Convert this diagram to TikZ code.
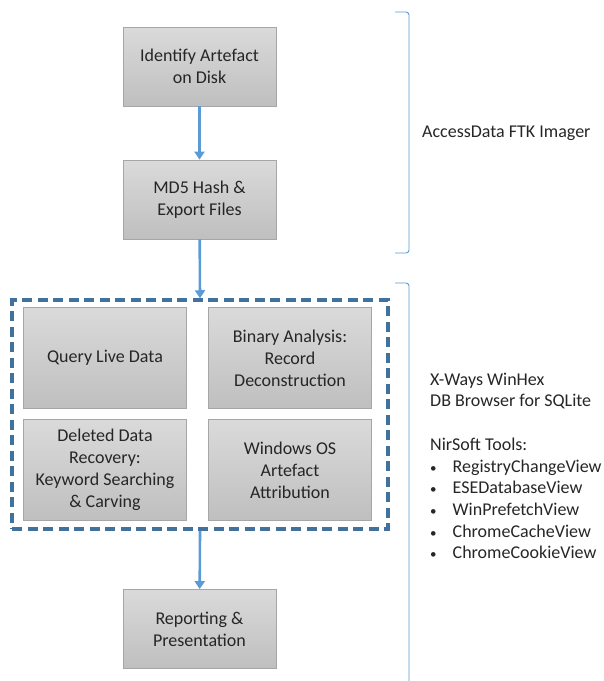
\documentclass[tikz,border=0pt]{standalone}
\usepackage{fontspec}
\setmainfont{Carlito}
\usetikzlibrary{arrows.meta}
\definecolor{flowblue}{HTML}{5B9BD5}
\definecolor{groupblue}{HTML}{41719C}
\definecolor{boxedge}{HTML}{A6A6A6}
\definecolor{boxtop}{HTML}{DADADA}
\definecolor{boxbottom}{HTML}{BFBFBF}
\newcommand{\toolitem}{\makebox[22.5pt][l]{\fontsize{13}{13}\selectfont\textbullet}}
\tikzset{
  stepbox/.style={draw=boxedge, line width=0.8pt, top color=boxtop, bottom color=boxbottom,
    minimum width=153pt, minimum height=79pt, align=center, inner sep=2pt,
    text=black!85, font=\fontsize{18}{22}\selectfont},
  taskbox/.style={stepbox, minimum width=163pt, minimum height=101pt},
  flow/.style={draw=flowblue, line width=2.6pt, -{Triangle[width=10pt,length=8pt]}},
  toolbrace/.style={draw=flowblue, line width=0.9pt, rounded corners=3pt},
  toollabel/.style={anchor=west, align=left, inner sep=0pt, text=black!85,
    font=\fontsize{18}{21.6}\selectfont}
}
\begin{document}
\begin{tikzpicture}[x=1pt, y=-1pt]
            \useasboundingbox (0,0) rectangle (604,681);
            % main flow
            \node[stepbox] (identify) at (199.5,66.5) {Identify Artefact\\on Disk};
            \node[stepbox] (hash) at (199.5,199.5) {MD5 Hash \&\\Export Files};
            \node[draw=groupblue, line width=3.5pt, dash pattern=on 10pt off 5.5pt,
                  minimum width=376pt, minimum height=229pt] (analysis) at (200,414.5) {};
            \node[taskbox] (query) at (105,358) {Query Live Data};
            \node[taskbox] (binary) at (290,358) {Binary Analysis:\\Record\\Deconstruction};
            \node[taskbox] (deleted) at (105,470) {Deleted Data\\Recovery:\\Keyword Searching\\\& Carving};
            \node[taskbox] (windows) at (290,470) {Windows OS\\Artefact\\Attribution};
            \node[stepbox] (report) at (199.5,629) {Reporting \&\\Presentation};
            \draw[flow] (identify) -- (hash);
            \draw[flow] (hash) -- (analysis.north);
            \draw[flow] (analysis.south) -- (report);
            % tool brackets
            \draw[toolbrace] (395,12) -- (409,12) -- (409,253) -- (395,253);
            \draw[toolbrace] (395,283) -- (409,283) -- (409,690);
            \node[toollabel] (ftk) at (422,133) {AccessData FTK Imager};
            \node[toollabel] (hex) at (430,391) {X-Ways WinHex\\DB Browser for SQLite};
            \node[toollabel] (nirsoft) at (430,498.5) {NirSoft Tools:\\
              \toolitem RegistryChangeView\\
              \toolitem ESEDatabaseView\\
              \toolitem WinPrefetchView\\
              \toolitem ChromeCacheView\\
              \toolitem ChromeCookieView};
\end{tikzpicture}
\end{document}
